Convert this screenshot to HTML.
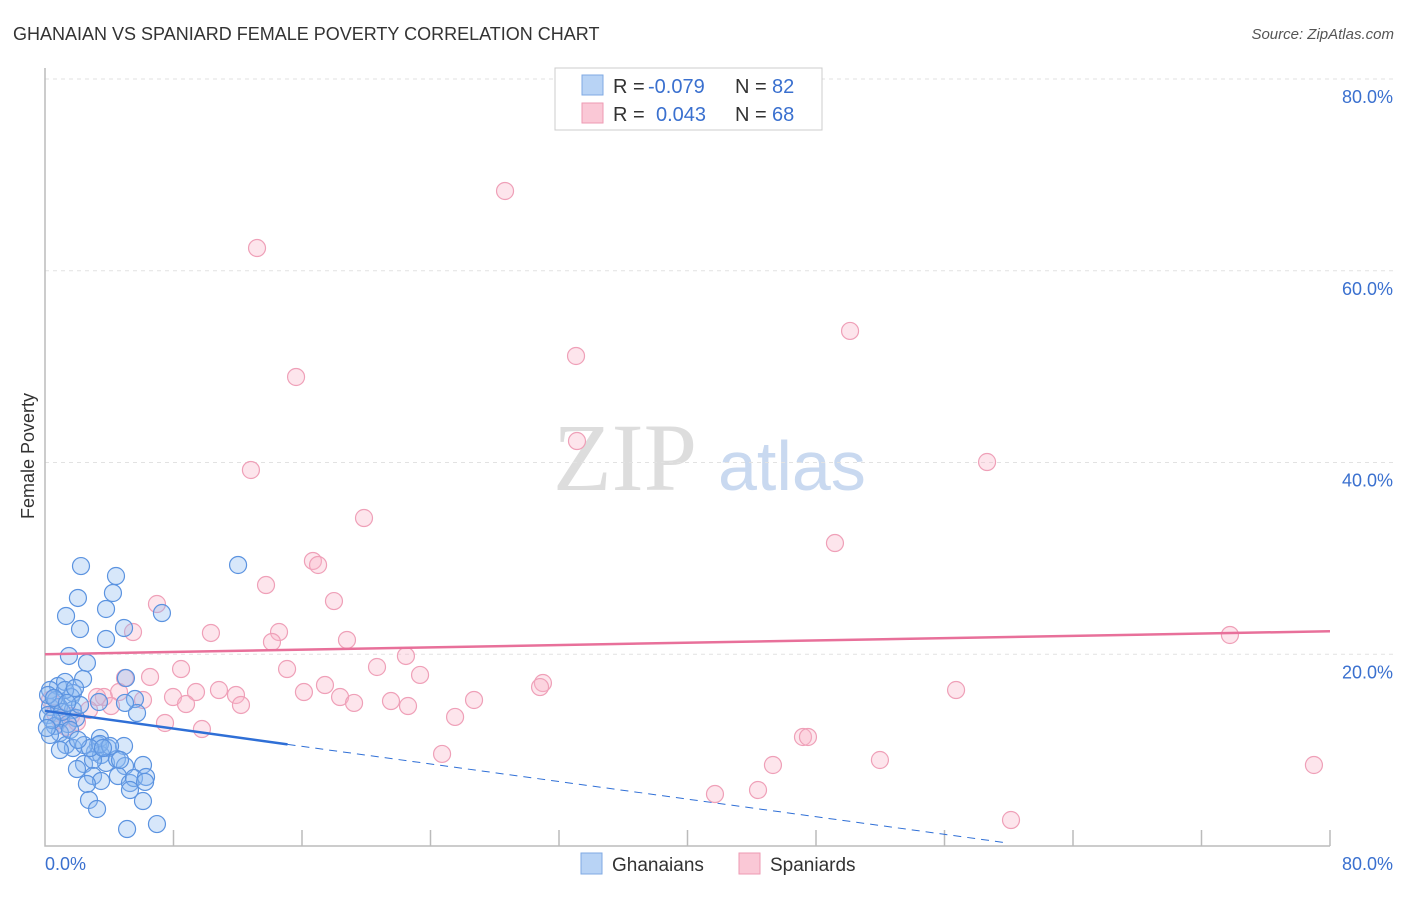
<!DOCTYPE html>
<html><head><meta charset="utf-8"><style>
body{margin:0;background:#fff;font-family:"Liberation Sans",sans-serif;}
svg text{font-family:"Liberation Sans",sans-serif;}
</style></head><body>
<svg id="chart" width="1406" height="892">
<text x="13" y="40" font-size="18" fill="#333">GHANAIAN VS SPANIARD FEMALE POVERTY CORRELATION CHART</text>
<text x="1394" y="39" font-size="15" fill="#555" font-style="italic" text-anchor="end">Source: ZipAtlas.com</text>
<text x="34" y="456" font-size="18" fill="#333" text-anchor="middle" transform="rotate(-90 34 456)">Female Poverty</text>
<text x="553" y="490" font-size="96" fill="#ddd" style="font-family:'Liberation Serif',serif">ZIP</text>
<text x="718" y="490" font-size="70" fill="#c9d9f0">atlas</text>
<g id="grid"></g><g id="pts"></g><g id="trend"></g>
<g>
<rect x="555" y="68" width="267" height="62" fill="#fff" stroke="#ccc"/>
<rect x="582" y="75" width="21" height="20" fill="#b8d3f5" stroke="#7fa9e3"/>
<rect x="582" y="103" width="21" height="20" fill="#fac8d6" stroke="#ee9ab3"/>
<text x="613" y="93" font-size="20" fill="#333">R =</text>
<text x="648" y="93" font-size="20" fill="#3a70cf">-0.079</text>
<text x="735" y="93" font-size="20" fill="#333">N =</text>
<text x="772" y="93" font-size="20" fill="#3a70cf">82</text>
<text x="613" y="121" font-size="20" fill="#333">R =</text>
<text x="656" y="121" font-size="20" fill="#3a70cf">0.043</text>
<text x="735" y="121" font-size="20" fill="#333">N =</text>
<text x="772" y="121" font-size="20" fill="#3a70cf">68</text>
</g>
<g>
<rect x="581" y="853" width="21" height="21" fill="#b8d3f5" stroke="#7fa9e3"/>
<text x="612" y="871" font-size="19" fill="#333">Ghanaians</text>
<rect x="739" y="853" width="21" height="21" fill="#fac8d6" stroke="#ee9ab3"/>
<text x="770" y="871" font-size="19" fill="#333">Spaniards</text>
</g>
</svg>
<script>
const yTicks=[20,40,60,80];
const xTickLabels=["0.0%","80.0%"];
const bluePx=[[81,566],[116,576],[78,598],[113,593],[66,616],[106,609],[80,629],[124,628],[162,613],[106,639],[238,565],[69,656],[87,663],[126,678],[83,679],[58,686],[65,682],[50,690],[73,693],[71,697],[99,702],[135,699],[137,713],[125,703],[50,707],[59,707],[48,715],[61,718],[73,710],[76,718],[55,726],[68,724],[60,733],[66,745],[73,748],[98,745],[108,748],[124,746],[95,752],[101,755],[84,764],[106,763],[93,760],[100,738],[117,759],[143,765],[125,766],[118,776],[77,769],[93,776],[101,781],[130,783],[134,778],[146,777],[145,782],[87,784],[89,800],[97,809],[143,801],[127,829],[157,824],[50,735],[84,745],[120,760],[65,690],[56,700],[62,712],[80,705],[100,744],[130,790],[90,748],[110,746],[48,695],[52,720],[70,730],[78,740],[60,750],[54,698],[67,703],[75,688],[103,748],[47,728]];
const pinkPx=[[505,191],[257,248],[850,331],[576,356],[296,377],[577,441],[251,470],[987,462],[364,518],[835,543],[313,561],[318,565],[266,585],[334,601],[157,604],[133,632],[211,633],[279,632],[272,642],[347,640],[1230,635],[406,656],[181,669],[287,669],[150,677],[377,667],[420,675],[304,692],[325,685],[219,690],[196,692],[236,695],[173,697],[543,683],[540,687],[956,690],[340,697],[354,703],[391,701],[408,706],[474,700],[241,705],[186,704],[143,700],[104,697],[97,697],[119,692],[455,717],[165,723],[202,729],[111,706],[89,710],[71,716],[66,727],[77,722],[442,754],[803,737],[808,737],[773,765],[880,760],[1314,765],[758,790],[715,794],[1011,820],[55,713],[60,720],[125,678],[50,700]];
const ghanaX=bluePx.map(p=>+((p[0]-45)/16.0625).toFixed(2));
const ghanaY=bluePx.map(p=>+((846-p[1])/9.5875).toFixed(2));
const spainX=pinkPx.map(p=>+((p[0]-45)/16.0625).toFixed(2));
const spainY=pinkPx.map(p=>+((846-p[1])/9.5875).toFixed(2));
const blueTrend=[[0,14.1],[15.1,10.6],[60,0.3]];
const pinkTrend=[[0,20.0],[80,22.4]];
const X=v=>45+v*16.0625, Y=v=>846-v*9.5875;
const NS="http://www.w3.org/2000/svg";
function mk(t,a,parent){const e=document.createElementNS(NS,t);for(const k in a)e.setAttribute(k,a[k]);parent.appendChild(e);return e;}
const grid=document.getElementById('grid');
yTicks.forEach(t=>{
 const l=mk('line',{x1:45,x2:1393,y1:Y(t),y2:Y(t),stroke:'#e2e2e2','stroke-dasharray':'4 4'},grid);
 
 
 const tx=mk('text',{x:1393,y:Y(t)+24,'font-size':18,fill:'#3a70cf','text-anchor':'end'},grid);
 tx.textContent=t.toFixed(1)+'%';
 
 
});
const ax=mk('path',{d:'M45 68V846H1330',fill:'none',stroke:'#bbb','stroke-width':1.5},grid);


for(let i=1;i<=10;i++){const t=mk('line',{x1:X(i*8),x2:X(i*8),y1:830,y2:846,stroke:'#bbb','stroke-width':1.5},grid);
 
 }
[[0,45,'start'],[80,1393,'end']].forEach((d,i)=>{const t=mk('text',{x:d[1],y:870,'font-size':18,fill:'#3a70cf','text-anchor':d[2]},grid);t.textContent=xTickLabels[i];
 
 });
const pts=document.getElementById('pts');
spainX.forEach((x,i)=>{const c=mk('circle',{cx:X(x),cy:Y(spainY[i]),r:8.5,fill:'rgba(248,180,200,0.35)',stroke:'#efa0b8','stroke-width':1.2},pts);
 
 });
ghanaX.forEach((x,i)=>{const c=mk('circle',{cx:X(x),cy:Y(ghanaY[i]),r:8.5,fill:'rgba(140,185,240,0.35)',stroke:'#5b93e0','stroke-width':1.2},pts);
 
 });
const tr=document.getElementById('trend');
const b1=mk('line',{x1:X(blueTrend[0][0]),y1:Y(blueTrend[0][1]),x2:X(blueTrend[1][0]),y2:Y(blueTrend[1][1]),stroke:'#2f6fd6','stroke-width':2.5},tr);


const b2=mk('line',{x1:X(blueTrend[1][0]),y1:Y(blueTrend[1][1]),x2:X(blueTrend[2][0]),y2:Y(blueTrend[2][1]),stroke:'#2f6fd6','stroke-width':1,'stroke-dasharray':'8 6'},tr);


const p1=mk('line',{x1:X(pinkTrend[0][0]),y1:Y(pinkTrend[0][1]),x2:X(pinkTrend[1][0]),y2:Y(pinkTrend[1][1]),stroke:'#e8709a','stroke-width':2.5},tr);


</script>
</body></html>
